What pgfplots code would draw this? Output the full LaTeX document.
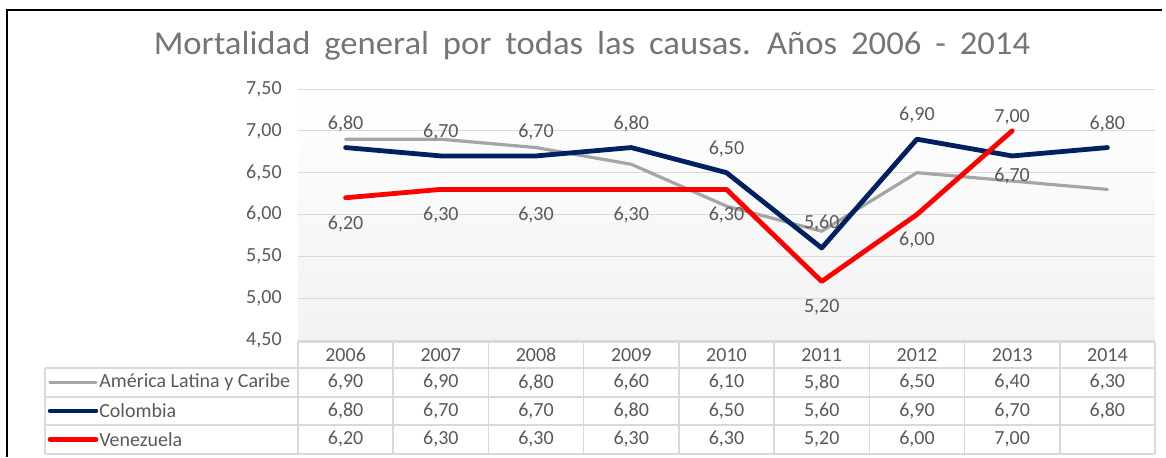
\documentclass[border=0pt]{standalone}
\usepackage{fontspec}
\setmainfont{Carlito}
\newfontfamily\titlefont{Carlito}[FakeStretch=1.04]
\usepackage{pgfplots}
\pgfplotsset{compat=1.18}
\usepackage{pgfplotstable}
\definecolor{cgray}{HTML}{A5A5A5}
\definecolor{cnavy}{HTML}{002060}
\definecolor{cred}{HTML}{FF0000}
\definecolor{ctxt}{HTML}{595959}
\definecolor{cgrid}{HTML}{D9D9D9}
\definecolor{ctitle}{HTML}{757575}
\pgfkeys{/pgf/number format/.cd,fixed,fixed zerofill,precision=2,use comma,assume math mode=true}
\newcommand\tfont{\fontsize{15}{17}\selectfont}

\pgfplotstableread{
x y
0 6.9
1 6.9
2 6.8
3 6.6
4 6.1
5 5.8
6 6.5
7 6.4
8 6.3
}\tabA
\pgfplotstableread{
x y off
0 6.8 18
1 6.7 18
2 6.7 18
3 6.8 18
4 6.5 18
5 5.6 19
6 6.9 18
7 6.7 -15
8 6.8 18
}\tabC
\pgfplotstableread{
x y off
0 6.2 -19.5
1 6.3 -19.5
2 6.3 -19.5
3 6.3 -19.5
4 6.3 -19.5
5 5.2 -19.5
6 6.0 -19.5
7 7.0 10.5
}\tabV

\begin{document}
\begin{tikzpicture}
\useasboundingbox (-223.5pt,-87.75pt) rectangle (651pt,255pt);
\begin{axis}[
  at={(0pt,0pt)}, anchor=south west,
  scale only axis, width=642.75pt, height=188.25pt,
  xmin=-0.5, xmax=8.5, ymin=4.5, ymax=7.5,
  ytick={4.5,5,5.5,6,6.5,7,7.5},
  xtick=\empty,
  ymajorgrids, grid style={cgrid, line width=0.75pt},
  axis line style={draw=none},
  major tick length=0pt,
  yticklabel style={font=\tfont, text=ctxt, xshift=-8.75pt},
  axis background/.style={top color=white, bottom color=black!5},
  clip=false,
]
\addplot[cgray, line width=2.4pt, line cap=round, line join=round] table[x=x,y=y]{\tabA};
\addplot[cnavy, line width=3.6pt, line cap=round, line join=round] table[x=x,y=y]{\tabC};
\addplot[cred, line width=3.6pt, line cap=round, line join=round] table[x=x,y=y]{\tabV};
\addplot[draw=none, nodes near coords, point meta=y,
  visualization depends on={\thisrow{off}\as\off},
  every node near coord/.append style={anchor=center, yshift=\off pt, font=\tfont, text=ctxt}]
  table[x=x,y=y]{\tabC};
\addplot[draw=none, nodes near coords, point meta=y,
  visualization depends on={\thisrow{off}\as\off},
  every node near coord/.append style={anchor=center, yshift=\off pt, font=\tfont, text=ctxt}]
  table[x=x,y=y]{\tabV};
\end{axis}
% frame
\draw[black, line width=1.1pt] (-218.25pt,-87.75pt) -- (-218.25pt,247.5pt) -- (648pt,247.5pt);
% title
\node[anchor=base, font=\titlefont\fontsize{25}{30}\selectfont, text=ctitle, inner sep=0pt] at (220.5pt,213.75pt) {\spaceskip=10.4pt plus 1pt\relax Mortalidad general por todas las causas. Años 2006 - 2014};
% data table
\def\cw{71.41667}
\begin{scope}[cgrid, line width=1.1pt]
\draw (0pt,-1.5pt) -- (642.75pt,-1.5pt);
\foreach \yy in {-21,-42.75,-63.75,-85.5} \draw (-189.75pt,\yy pt) -- (642.75pt,\yy pt);
\foreach \k in {0,...,9} \draw (\k*\cw pt,-1.5pt) -- (\k*\cw pt,-85.5pt);
\draw (-189.75pt,-21pt) -- (-189.75pt,-85.5pt);
\end{scope}
\begin{scope}[font=\tfont, text=ctxt]
\foreach \yr [count=\k from 0] in {2006,...,2014}
  \node at ({(\k+0.5)*\cw pt},-11.25pt) {\yr};
\foreach \i in {0,...,8}{
  \pgfplotstablegetelem{\i}{y}\of\tabA
  \node at ({(\i+0.5)*\cw pt},-31.875pt) {\pgfmathprintnumber{\pgfplotsretval}};
  \pgfplotstablegetelem{\i}{y}\of\tabC
  \node at ({(\i+0.5)*\cw pt},-53.25pt) {\pgfmathprintnumber{\pgfplotsretval}};
}
\foreach \i in {0,...,7}{
  \pgfplotstablegetelem{\i}{y}\of\tabV
  \node at ({(\i+0.5)*\cw pt},-74.625pt) {\pgfmathprintnumber{\pgfplotsretval}};
}
\draw[cgray, line width=2.4pt, line cap=round] (-186pt,-31.875pt) -- (-151.5pt,-31.875pt);
\draw[cnavy, line width=3.4pt, line cap=round] (-186pt,-53.25pt) -- (-151.5pt,-53.25pt);
\draw[cred, line width=3.4pt, line cap=round] (-186pt,-74.625pt) -- (-151.5pt,-74.625pt);
\node[anchor=west, inner sep=0pt] at (-149.25pt,-31.875pt) {América Latina y Caribe};
\node[anchor=west, inner sep=0pt] at (-149.25pt,-53.25pt) {Colombia};
\node[anchor=west, inner sep=0pt] at (-149.25pt,-74.625pt) {Venezuela};
\end{scope}
\end{tikzpicture}
\end{document}
